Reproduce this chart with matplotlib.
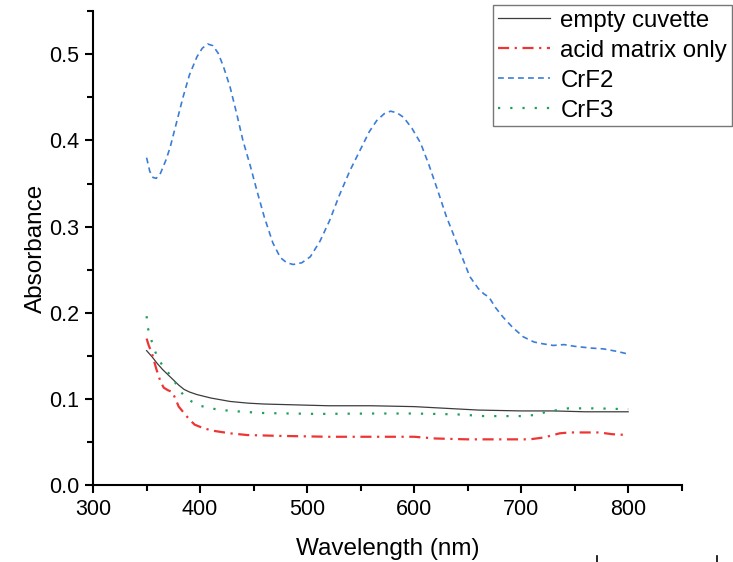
"""UV-Vis absorbance spectra: empty cuvette, acid matrix, CrF2 and CrF3."""
import matplotlib
matplotlib.use("Agg")
import matplotlib.pyplot as plt
import numpy as np
from matplotlib.lines import Line2D
from matplotlib.ticker import MultipleLocator

plt.rcParams["font.family"] = ["Liberation Sans", "DejaVu Sans"]

# --- data ------------------------------------------------------------------
WL_EMPTY = [350, 355, 360, 365, 370, 375, 380, 385, 390, 397, 410, 428, 445,
            460, 490, 520, 560, 600, 630, 660, 700, 730, 760, 800]
ABS_EMPTY = [0.156, 0.149, 0.141, 0.134, 0.128, 0.122, 0.116, 0.111, 0.108,
             0.105, 0.101, 0.097, 0.095, 0.094, 0.093, 0.092, 0.092, 0.091,
             0.089, 0.087, 0.086, 0.086, 0.085, 0.085]

WL_ACID = [350, 352, 355, 359, 363, 366, 370, 374, 377, 380, 384, 390, 395,
           403, 412, 428, 444, 475, 520, 560, 600, 620, 650, 680, 708, 720,
           727, 736, 745, 760, 773, 785, 800]
ABS_ACID = [0.170, 0.162, 0.153, 0.135, 0.120, 0.113, 0.110, 0.108, 0.100,
            0.091, 0.085, 0.076, 0.070, 0.066, 0.063, 0.060, 0.058, 0.057,
            0.056, 0.056, 0.056, 0.054, 0.053, 0.053, 0.053, 0.055, 0.057,
            0.060, 0.061, 0.061, 0.061, 0.059, 0.058]

WL_CRF2 = [350, 353, 356, 359, 363, 368, 372, 378, 384, 390, 397, 402, 407,
           412, 417, 422, 428, 434, 440, 447, 453, 460, 468, 475, 481, 487,
           495, 503, 512, 521, 530, 540, 550, 558, 565, 572, 578, 584, 590,
           598, 606, 614, 622, 630, 637, 645, 652, 660, 665, 670, 676, 683,
           692, 702, 712, 720, 730, 740, 750, 765, 777, 790, 800]
ABS_CRF2 = [0.380, 0.364, 0.357, 0.356, 0.362, 0.377, 0.392, 0.421, 0.450,
            0.476, 0.497, 0.507, 0.512, 0.510, 0.501, 0.485, 0.462, 0.432,
            0.400, 0.370, 0.342, 0.311, 0.281, 0.264, 0.258, 0.256, 0.258,
            0.265, 0.283, 0.307, 0.336, 0.365, 0.390, 0.410, 0.423, 0.431,
            0.434, 0.432, 0.427, 0.414, 0.397, 0.371, 0.342, 0.312, 0.290,
            0.264, 0.242, 0.228, 0.222, 0.218, 0.206, 0.195, 0.183, 0.172,
            0.166, 0.164, 0.162, 0.163, 0.161, 0.159, 0.158, 0.155, 0.152]

WL_CRF3 = [350, 351, 354, 357, 361, 367, 374, 379, 384, 392, 400, 410, 420,
           440, 460, 510, 560, 600, 640, 665, 705, 715, 724, 734, 744, 770, 800]
ABS_CRF3 = [0.196, 0.183, 0.170, 0.158, 0.146, 0.135, 0.125, 0.114, 0.105,
            0.097, 0.092, 0.089, 0.087, 0.085, 0.0835, 0.0825, 0.083, 0.083,
            0.082, 0.080, 0.080, 0.082, 0.085, 0.087, 0.089, 0.089, 0.088]

LABELS = ["empty cuvette", "acid matrix only", "CrF2", "CrF3"]


def main() -> None:
    fig = plt.figure(figsize=(7.33, 5.62), dpi=100)
    ax = fig.add_axes([0.127, 0.137, 0.803, 0.843])

    ax.plot(WL_EMPTY, ABS_EMPTY, color="#3c3c3c", lw=0.9, label=LABELS[0])
    ax.plot(WL_ACID, ABS_ACID, color="#ee3535", lw=1.6,
            ls=(0, (5, 2.5, 1, 2.5)), label=LABELS[1])
    ax.plot(WL_CRF2, ABS_CRF2, color="#3a7dd8", lw=1.2,
            ls=(0, (3.5, 2.5)), label=LABELS[2])
    ax.plot(WL_CRF3, ABS_CRF3, color="#1f9e5c", lw=1.6,
            ls=(0, (1, 4.5)), label=LABELS[3])

    ax.set_xlim(300, 850)
    ax.set_ylim(0, 0.55)
    ax.xaxis.set_major_locator(MultipleLocator(100))
    ax.xaxis.set_minor_locator(MultipleLocator(50))
    ax.yaxis.set_major_locator(MultipleLocator(0.1))
    ax.yaxis.set_minor_locator(MultipleLocator(0.05))
    ax.tick_params(which="major", length=6, width=1.5, labelsize=15.5, pad=4)
    ax.tick_params(which="minor", length=4, width=1.5)
    for side in ("top", "right"):
        ax.spines[side].set_visible(False)
    for side in ("left", "bottom"):
        ax.spines[side].set_linewidth(1.5)

    ax.set_xlabel("Wavelength (nm)", fontsize=17.5, labelpad=13)
    ax.set_ylabel("Absorbance", fontsize=17.5, labelpad=1.5)

    leg = ax.legend(loc="upper right", bbox_to_anchor=(732 / 733, 1 - 5 / 562),
                    bbox_transform=fig.transFigure, fontsize=17.3, frameon=True,
                    fancybox=False, edgecolor="#555555", handlelength=2.15,
                    handletextpad=0.45, labelspacing=0.33, borderpad=0.2,
                    borderaxespad=0)
    leg.get_frame().set_linewidth(1.0)

    # two stray tick marks at the bottom edge of the original image
    for xf in (597 / 733, 717 / 733):
        fig.add_artist(Line2D([xf, xf], [0, 6 / 562], color="black", lw=1.2))

    fig.savefig("out.png", dpi=100)
    plt.close(fig)


if __name__ == "__main__":
    main()
